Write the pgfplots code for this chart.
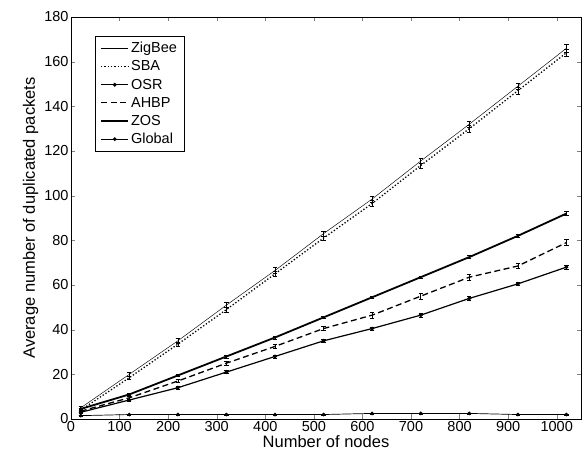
\documentclass[border=0pt]{standalone}
\usepackage{pgfplots}
\pgfplotsset{compat=1.18}
\usepackage{fontspec}
\setmainfont{Liberation Sans}
\begin{document}
\begin{tikzpicture}[x=1pt,y=1pt]
\path (-71,-49) rectangle (513,419);
\begin{axis}[
  at={(0,0)}, anchor=south west,
  scale only axis, width=510pt, height=402pt,
  xmin=0, xmax=1050, ymin=0, ymax=180,
  xtick={0,100,...,1000}, ytick={0,20,...,180},
  tick align=inside, major tick length=4.5pt,
  xtick pos=both, ytick pos=both,
  /pgf/number format/assume math mode=true,
  /pgf/number format/1000 sep={},
  tick label style={font=\fontsize{14.5}{16}\selectfont},
  xticklabel style={yshift=1pt},
  yticklabel style={xshift=1pt},
  label style={font=\fontsize{16.5}{18}\selectfont},
  xlabel={Number of nodes},
  ylabel={Average number of duplicated packets},
  xlabel style={yshift=3pt},
  ylabel style={yshift=-1pt},
  legend style={at={(24pt,383pt)}, anchor=north west, font=\fontsize{14.5}{16}\selectfont,
    draw=black, line width=0.6pt, inner xsep=5pt, inner ysep=4pt, row sep=2.5pt,
    cells={anchor=west}, /tikz/every even column/.append style={column sep=9pt}},
  legend cell align=left,
  legend image code/.code={\draw[mark repeat=2,mark phase=2] plot coordinates {(0pt,0pt)(13.5pt,0pt)(27pt,0pt)};},
  error bars/y dir=both, error bars/y explicit,
  error bars/error bar style={line width=0.6pt, solid},
  error bars/error mark options={rotate=90, mark size=2.2pt, line width=0.6pt, solid},
]
\addplot[black, line width=0.45pt] coordinates {
 (20,5) +- (0,0.6) (120,20) +- (0,0.8) (220,35) +- (0,1) (320,51) +- (0,1.2) (420,66.5) +- (0,1.2)
 (520,83) +- (0,1) (620,98.5) +- (0,1.3) (720,115.5) +- (0,1.2) (820,132) +- (0,1.5) (920,149) +- (0,1.5) (1020,166) +- (0,1.6)};
\addlegendentry{ZigBee}
\addplot[black, line width=1.3pt, dash pattern=on 1.3pt off 2pt] coordinates {
 (20,4) +- (0,0.6) (120,18.5) +- (0,0.8) (220,33.5) +- (0,1) (320,49) +- (0,1.2) (420,65) +- (0,1.2)
 (520,81) +- (0,1) (620,96.5) +- (0,1.3) (720,113.5) +- (0,1.2) (820,130) +- (0,1.5) (920,147) +- (0,1.5) (1020,164) +- (0,1.6)};
\addlegendentry{SBA}
\addplot[black, line width=1.2pt, mark=*, mark size=1.3pt] coordinates {
 (20,3) +- (0,0.5) (120,8.5) +- (0,0.5) (220,14) +- (0,0.5) (320,21) +- (0,0.6) (420,28) +- (0,0.6)
 (520,35) +- (0,0.6) (620,40.5) +- (0,0.6) (720,46.5) +- (0,0.8) (820,54) +- (0,0.8) (920,60.5) +- (0,0.8) (1020,68) +- (0,1)};
\addlegendentry{OSR}
\addplot[black, line width=1.3pt, dash pattern=on 6pt off 3.5pt] coordinates {
 (20,3.5) +- (0,0.5) (120,9.5) +- (0,0.5) (220,17) +- (0,0.6) (320,25) +- (0,0.8) (420,32.5) +- (0,0.8)
 (520,40.5) +- (0,0.8) (620,46.5) +- (0,1.3) (720,55) +- (0,1.3) (820,63.5) +- (0,1.2) (920,68.5) +- (0,1.2) (1020,79) +- (0,1.3)};
\addlegendentry{AHBP}
\addplot[black, line width=1.8pt] coordinates {
 (20,4.5) +- (0,0.5) (120,11) +- (0,0.5) (220,19.5) +- (0,0.5) (320,28) +- (0,0.6) (420,36.5) +- (0,0.6)
 (520,45.5) +- (0,0.6) (620,54.5) +- (0,0.6) (720,63.5) +- (0,0.6) (820,72.5) +- (0,0.7) (920,82) +- (0,0.8) (1020,92) +- (0,0.9)};
\addlegendentry{ZOS}
\addplot[black, line width=0.7pt, mark=*, mark size=1.5pt] coordinates {
 (20,1.5) +- (0,0.2) (120,2) +- (0,0.2) (220,2) +- (0,0.2) (320,2) +- (0,0.2) (420,2) +- (0,0.2)
 (520,2) +- (0,0.2) (620,2.5) +- (0,0.2) (720,2.5) +- (0,0.2) (820,2.5) +- (0,0.2) (920,2) +- (0,0.2) (1020,2) +- (0,0.2)};
\addlegendentry{Global}
\end{axis}
\end{tikzpicture}
\end{document}
